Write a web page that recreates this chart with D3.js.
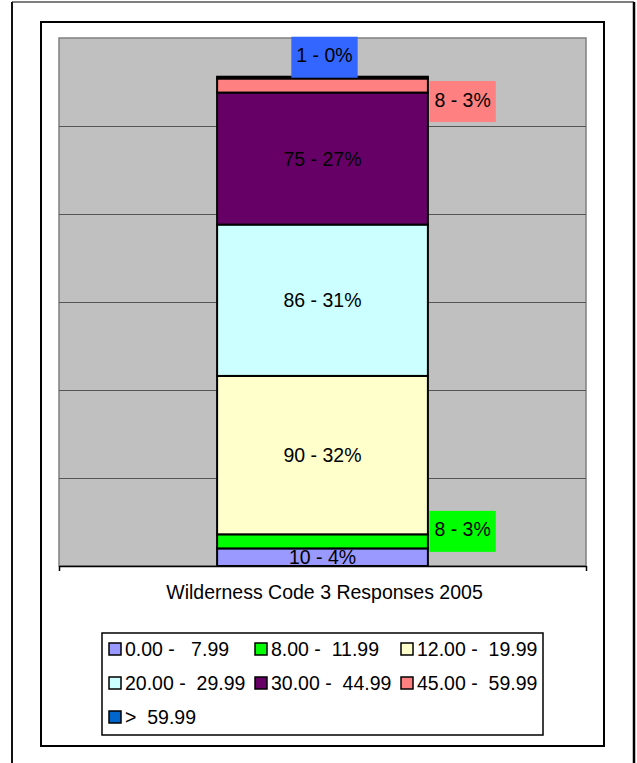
<!DOCTYPE html>
<html>
<head>
<meta charset="utf-8">
<script src="https://cdn.jsdelivr.net/npm/d3@7"></script>
<style>
  body { margin: 0; background: #fff; }
  text { font-family: Arial, "Liberation Sans", sans-serif; font-size: 19.5px; fill: #000; white-space: pre; }
</style>
</head>
<body>
<div id="chart"></div>
<script>
var categories = ['Wilderness Code 3 Responses 2005'],
    seriesNames = ['0.00 -   7.99', '8.00 -  11.99', '12.00 -  19.99', '20.00 -  29.99',
                   '30.00 -  44.99', '45.00 -  59.99', '>  59.99'],
    seriesValues = [10, 8, 90, 86, 75, 8, 1],
    seriesColors = ['#9999ff', '#00ff00', '#ffffcc', '#ccffff', '#660066', '#ff8080', '#0066cc'],
    labelColors = [null, '#00ff00', null, null, null, '#ff8080', '#3366ff'],
    gridValues = [50, 100, 150, 200, 250];

var width = 637, height = 763,
    plot = {left: 59, top: 38, right: 586, bottom: 566};

var svg = d3.select('div#chart').append('svg')
    .attr('width', width)
    .attr('height', height);

// outer frame (bottom runs off the page)
svg.append('line').attr('x1', 12).attr('x2', 634).attr('y1', 2).attr('y2', 2)
    .attr('stroke', '#555').attr('stroke-width', 1.5);
svg.append('line').attr('x1', 12).attr('x2', 12).attr('y1', 2).attr('y2', height)
    .attr('stroke', '#111').attr('stroke-width', 2);
svg.append('line').attr('x1', 634).attr('x2', 634).attr('y1', 2).attr('y2', height)
    .attr('stroke', '#000').attr('stroke-width', 2.5);

// chart area frame
svg.append('rect').attr('x', 41).attr('y', 22).attr('width', 563).attr('height', 724)
    .attr('fill', '#fff').attr('stroke', '#000').attr('stroke-width', 2);

// plot area
svg.append('rect').attr('x', plot.left).attr('y', plot.top)
    .attr('width', plot.right - plot.left).attr('height', plot.bottom - plot.top)
    .attr('fill', '#c0c0c0').attr('stroke', '#808080').attr('stroke-width', 1.5);

var y = d3.scaleLinear().domain([0, 300]).range([plot.bottom, plot.top]);
var x = d3.scaleBand().domain(categories).range([plot.left, plot.right])
    .paddingInner(0).paddingOuter(0.75);

// gridlines
svg.append('g').attr('transform', 'translate(' + plot.left + ',0)')
    .call(d3.axisLeft(y).tickValues(gridValues).tickSize(-(plot.right - plot.left)).tickFormat(''))
    .call(function (g) {
        g.select('.domain').remove();
        g.selectAll('line').attr('stroke', '#555').attr('stroke-width', 1);
    });

// category axis (ticks sit at the edges of the category)
var edge = d3.scaleLinear().domain([0, 1]).range([plot.left, plot.right]);
svg.append('g').attr('transform', 'translate(0,' + plot.bottom + ')')
    .call(d3.axisBottom(edge).tickValues([0, 1]).tickSize(5).tickSizeOuter(0).tickFormat(''))
    .call(function (g) {
        g.selectAll('line, path').attr('stroke', '#000').attr('stroke-width', 1.5);
    });

// stacked bar
var total = d3.sum(seriesValues);
var stack = [], cum = 0;
seriesValues.forEach(function (v, i) {
    stack.push({i: i, v: v, y0: cum, y1: cum + v});
    cum += v;
});

var bx = x(categories[0]), bw = x.bandwidth();
svg.append('g').selectAll('rect').data(stack).enter().append('rect')
    .attr('x', bx)
    .attr('y', function (d) { return y(d.y1); })
    .attr('width', bw)
    .attr('height', function (d) { return y(d.y0) - y(d.y1); })
    .attr('fill', function (d) { return seriesColors[d.i]; })
    .attr('stroke', '#000').attr('stroke-width', 2);

// data labels
var labels = svg.append('g');
var rightShift = {1: -10, 5: 16};
stack.forEach(function (d) {
    var txt = d.v + ' - ' + Math.round(d.v / total * 100) + '%';
    var segH = y(d.y0) - y(d.y1);
    var cy = (y(d.y0) + y(d.y1)) / 2;
    if (d.i === stack.length - 1) {
        // last series goes above the bar
        box(txt, bx + bw / 2 + 2, y(d.y1) - 19.5, 'middle', labelColors[d.i]);
    } else if (segH >= 16) {
        labels.append('text').attr('x', bx + bw / 2).attr('y', cy)
            .attr('text-anchor', 'middle').attr('dominant-baseline', 'central').text(txt);
    } else {
        box(txt, bx + bw + 1.5, cy + (rightShift[d.i] || 0), 'start', labelColors[d.i]);
    }
});

function box(txt, px, py, anchor, fill) {
    var g = labels.append('g');
    var r = g.append('rect').attr('fill', fill);
    var t = g.append('text').attr('dominant-baseline', 'central').text(txt);
    var w = t.node().getComputedTextLength() + 10, h = 41;
    var left = anchor === 'middle' ? px - w / 2 : px;
    r.attr('x', left).attr('y', py - h / 2).attr('width', w).attr('height', h);
    t.attr('x', left + 5).attr('y', py - 2);
}

// title under the axis
svg.append('text').attr('x', (plot.left + plot.right) / 2 + 2).attr('y', 592)
    .attr('text-anchor', 'middle').attr('dominant-baseline', 'central')
    .text(categories[0]);

// legend
var legend = svg.append('g');
legend.append('rect').attr('x', 102).attr('y', 633).attr('width', 441).attr('height', 102)
    .attr('fill', '#fff').attr('stroke', '#000').attr('stroke-width', 1.5);
var item = legend.selectAll('g.item').data(seriesNames).enter().append('g')
    .attr('class', 'item')
    .attr('transform', function (d, i) {
        return 'translate(' + (109 + (i % 3) * 146) + ',' + (649 + Math.floor(i / 3) * 34) + ')';
    });
item.append('rect').attr('x', 0).attr('y', -6).attr('width', 12).attr('height', 12)
    .attr('fill', function (d, i) { return seriesColors[i]; })
    .attr('stroke', '#000').attr('stroke-width', 1.5);
item.append('text').attr('x', 16).attr('y', 0).attr('dominant-baseline', 'central')
    .text(function (d) { return d; });
</script>
</body>
</html>
